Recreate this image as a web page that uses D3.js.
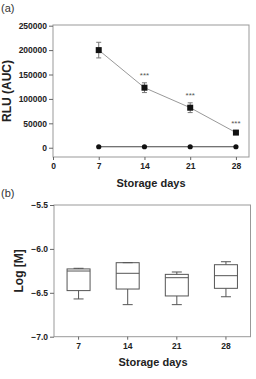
<!DOCTYPE html>
<html>
<head>
<meta charset="utf-8">
<script src="https://cdn.jsdelivr.net/npm/d3@7"></script>
<style>
  body { margin: 0; background: #fff; }
  text { font-family: "Liberation Sans", Arial, sans-serif; }
</style>
</head>
<body>
<div id="chart"></div>
<script>
// panel (a) data
const days = [7, 14, 21, 28];
const rluMean = [200000, 123000, 82000, 31000];
const rluErr = [16000, 10000, 10000, 3000];
const ctrlMean = [2000, 2000, 2000, 2000];
const sigLabels = ['', '***', '***', '***'];
const yTicksA = [0, 50000, 100000, 150000, 200000, 250000];
const xTicksA = [0, 7, 14, 21, 28];

// panel (b) data: whisker low, q1, median, q3, whisker high
const boxCats = ['7', '14', '21', '28'];
const boxLow = [-6.57, -6.635, -6.635, -6.545];
const boxQ1 = [-6.475, -6.457, -6.536, -6.449];
const boxMed = [-6.252, -6.278, -6.328, -6.305];
const boxQ3 = [-6.228, -6.157, -6.29, -6.18];
const boxHigh = [-6.221, -6.157, -6.263, -6.146];
const yTicksB = [-5.5, -6.0, -6.5, -7.0];

const W = 256, H = 379;
const svg = d3.select('#chart').append('svg')
  .attr('width', W).attr('height', H);

const frameCol = '#999';
const inkCol = '#222';

function frame(g, x0, x1, y0, y1) {
  g.append('rect')
    .attr('x', x0).attr('y', y0)
    .attr('width', x1 - x0).attr('height', y1 - y0)
    .attr('fill', 'none').attr('stroke', frameCol).attr('stroke-width', 1);
}

function styleAxis(ax) {
  ax.select('.domain').remove();
  ax.selectAll('.tick line').attr('stroke', '#666');
  ax.selectAll('.tick text')
    .attr('fill', inkCol)
    .style('font-size', '8.5px')
    .style('font-weight', 'bold');
}

// ---------- panel (a) ----------
const a = { left: 53, right: 249, top: 25, bottom: 157 };
const xA = d3.scaleLinear().domain([0, 30]).range([a.left, a.right]);
const yA = d3.scaleLinear().domain([-19000, 250000]).range([a.bottom, 25.7]);

const gA = svg.append('g');
frame(gA, a.left, a.right, a.top, a.bottom);

gA.append('g')
  .attr('transform', `translate(${a.left},0)`)
  .call(d3.axisLeft(yA).tickValues(yTicksA).tickSize(4).tickPadding(2).tickFormat(d3.format('d')))
  .call(styleAxis);

gA.append('g')
  .attr('transform', `translate(0,${a.bottom})`)
  .call(d3.axisBottom(xA).tickValues(xTicksA).tickSize(3).tickPadding(3))
  .call(styleAxis);

// control series line + dots
const lineA = d3.line().x(d => xA(d[0])).y(d => yA(d[1]));
gA.append('path')
  .datum(days.map((d, i) => [d, ctrlMean[i]]))
  .attr('d', lineA).attr('fill', 'none')
  .attr('stroke', '#444').attr('stroke-width', 1);
gA.selectAll('circle.ctrl')
  .data(days)
  .join('circle')
  .attr('class', 'ctrl')
  .attr('cx', d => xA(d))
  .attr('cy', (d, i) => yA(ctrlMean[i]))
  .attr('r', 2.6)
  .attr('fill', '#111');

// main series
gA.append('path')
  .datum(days.map((d, i) => [d, rluMean[i]]))
  .attr('d', lineA).attr('fill', 'none')
  .attr('stroke', '#999').attr('stroke-width', 1);

const err = gA.selectAll('g.err')
  .data(days)
  .join('g')
  .attr('class', 'err');
err.append('line')
  .attr('x1', d => xA(d)).attr('x2', d => xA(d))
  .attr('y1', (d, i) => yA(rluMean[i] + rluErr[i]))
  .attr('y2', (d, i) => yA(rluMean[i] - rluErr[i]))
  .attr('stroke', '#777');
[1, -1].forEach(s => {
  err.append('line')
    .attr('x1', d => xA(d) - 2.5).attr('x2', d => xA(d) + 2.5)
    .attr('y1', (d, i) => yA(rluMean[i] + s * rluErr[i]))
    .attr('y2', (d, i) => yA(rluMean[i] + s * rluErr[i]))
    .attr('stroke', '#777');
});

gA.selectAll('rect.pt')
  .data(days)
  .join('rect')
  .attr('class', 'pt')
  .attr('x', d => xA(d) - 3)
  .attr('y', (d, i) => yA(rluMean[i]) - 3)
  .attr('width', 6).attr('height', 6)
  .attr('fill', '#111');

gA.selectAll('text.sig')
  .data(days)
  .join('text')
  .attr('class', 'sig')
  .attr('x', d => xA(d))
  .attr('y', (d, i) => yA(rluMean[i] + rluErr[i]) - 5)
  .attr('text-anchor', 'middle')
  .attr('fill', '#555')
  .style('font-size', '8px')
  .text((d, i) => sigLabels[i]);

gA.append('text')
  .attr('transform', `translate(11,${(a.top + a.bottom) / 2}) rotate(-90)`)
  .attr('text-anchor', 'middle')
  .attr('fill', inkCol)
  .style('font-size', '12px').style('font-weight', 'bold')
  .text('RLU (AUC)');

gA.append('text')
  .attr('x', 151).attr('y', 187)
  .attr('text-anchor', 'middle')
  .attr('fill', inkCol)
  .style('font-size', '11px').style('font-weight', 'bold')
  .text('Storage days');

gA.append('text')
  .attr('x', 1).attr('y', 12)
  .attr('fill', '#333')
  .style('font-size', '11px')
  .text('(a)');

// ---------- panel (b) ----------
const b = { left: 54, right: 250.5, top: 205, bottom: 336.7 };
const xB = d3.scaleBand().domain(boxCats).range([b.left, b.right]);
const yB = d3.scaleLinear().domain([-7.0, -5.5]).range([b.bottom, b.top]);

const gB = svg.append('g');
frame(gB, b.left, b.right, b.top, b.bottom);

gB.append('g')
  .attr('transform', `translate(${b.left},0)`)
  .call(d3.axisLeft(yB).tickValues(yTicksB).tickSize(4).tickPadding(2).tickFormat(d3.format('.1f')))
  .call(styleAxis);

gB.append('g')
  .attr('transform', `translate(0,${b.bottom})`)
  .call(d3.axisBottom(xB).tickSize(3).tickPadding(3))
  .call(styleAxis);

const boxW = 23, capW = 10;
const bx = gB.selectAll('g.box')
  .data(boxCats)
  .join('g')
  .attr('class', 'box')
  .attr('transform', d => `translate(${xB(d) + xB.bandwidth() / 2},0)`);

bx.append('line')
  .attr('x1', 0).attr('x2', 0)
  .attr('y1', (d, i) => yB(boxLow[i])).attr('y2', (d, i) => yB(boxQ1[i]))
  .attr('stroke', '#555');
bx.append('line')
  .attr('x1', 0).attr('x2', 0)
  .attr('y1', (d, i) => yB(boxHigh[i])).attr('y2', (d, i) => yB(boxQ3[i]))
  .attr('stroke', '#555');
bx.append('line')
  .attr('x1', -capW / 2).attr('x2', capW / 2)
  .attr('y1', (d, i) => yB(boxLow[i])).attr('y2', (d, i) => yB(boxLow[i]))
  .attr('stroke', '#555');
bx.append('line')
  .attr('x1', -capW / 2).attr('x2', capW / 2)
  .attr('y1', (d, i) => yB(boxHigh[i])).attr('y2', (d, i) => yB(boxHigh[i]))
  .attr('stroke', '#555');
bx.append('rect')
  .attr('x', -boxW / 2).attr('width', boxW)
  .attr('y', (d, i) => yB(boxQ3[i]))
  .attr('height', (d, i) => yB(boxQ1[i]) - yB(boxQ3[i]))
  .attr('fill', 'none').attr('stroke', '#555');
bx.append('line')
  .attr('x1', -boxW / 2).attr('x2', boxW / 2)
  .attr('y1', (d, i) => yB(boxMed[i])).attr('y2', (d, i) => yB(boxMed[i]))
  .attr('stroke', '#555');

gB.append('text')
  .attr('transform', `translate(23,${(b.top + b.bottom) / 2}) rotate(-90)`)
  .attr('text-anchor', 'middle')
  .attr('fill', inkCol)
  .style('font-size', '12px').style('font-weight', 'bold')
  .text('Log [M]');

gB.append('text')
  .attr('x', 153).attr('y', 366)
  .attr('text-anchor', 'middle')
  .attr('fill', inkCol)
  .style('font-size', '11px').style('font-weight', 'bold')
  .text('Storage days');

gB.append('text')
  .attr('x', 1).attr('y', 197)
  .attr('fill', '#333')
  .style('font-size', '11px')
  .text('(b)');
</script>
</body>
</html>
